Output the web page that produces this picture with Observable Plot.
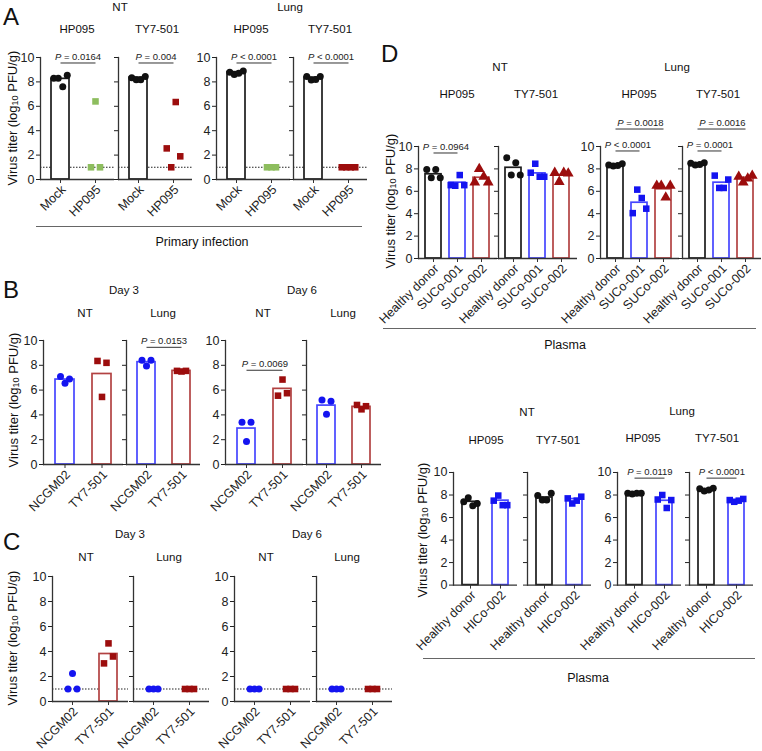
<!DOCTYPE html>
<html><head><meta charset="utf-8">
<script src="https://cdn.jsdelivr.net/npm/d3@7"></script>
<script src="https://cdn.jsdelivr.net/npm/@observablehq/plot@0.6"></script>
<style>
body{margin:0;background:#fff;}
#fig{position:relative;width:762px;height:751px;overflow:hidden;font-family:"Liberation Sans",Arial,sans-serif;color:#111;background:#fff;}
.t{position:absolute;white-space:nowrap;transform:translate(-50%,-50%);font-size:11.5px;line-height:1;}
.letter{position:absolute;font-size:24px;line-height:1;transform:translateY(-50%);}
.ylab{position:absolute;white-space:nowrap;font-size:13px;line-height:1;transform:translate(-50%,-50%) rotate(-90deg);}
.ylab sub{font-size:0.7em;vertical-align:-0.2em;line-height:0;}
.hline{position:absolute;height:0;border-top:1.3px solid #666;}
.plot{position:absolute;}
</style></head><body><div id="fig"></div><script>
// ---------------- DATA ----------------
// Panel A: primary infection (Mock / HP095), then challenge (header virus)
const aGroups = ["Mock", "HP095"];
const aNtHp095Pts = [[8.3, 8.3, 7.6, 8.55], [1, 6.4, 1]];
const aNtHp095Bar = [8.25, null];
const aNtTy7Pts = [[8.33, 8.17, 8.17, 8.44], [2.55, 1.0, 6.35, 1.9]];
const aNtTy7Bar = [8.35, null];
const aLungHp095Pts = [[8.8, 8.6, 8.7, 8.9], [1, 1, 1]];
const aLungHp095Bar = [8.8, null];
const aLungTy7Pts = [[8.45, 8.15, 8.2, 8.45], [1, 1, 1, 1]];
const aLungTy7Bar = [8.35, null];
const aPvals = ["P = 0.0164", "P = 0.004", "P < 0.0001", "P < 0.0001"];

// Panel B: NCGM02 vs TY7-501 infection, Day 3 / Day 6
const bGroups = ["NCGM02", "TY7-501"];
const bD3NtPts = [[7.1, 6.55, 6.9], [8.35, 5.45, 8.2]];
const bD3NtBar = [6.85, 7.3];
const bD3LungPts = [[8.4, 7.95, 8.4], [7.55, 7.5, 7.55]];
const bD3LungBar = [8.25, 7.55];
const bD6NtPts = [[3.4, 1.85, 3.4], [5.55, 6.85, 5.75]];
const bD6NtBar = [2.9, 6.1];
const bD6LungPts = [[5.2, 4.05, 5.1], [4.8, 4.45, 4.7]];
const bD6LungBar = [4.75, 4.65];
const bPvals = ["P = 0.0153", "P = 0.0069"];

// Panel C
const cD3NtPts = [[1, 2.25, 1], [3.05, 4.65, 3.6]];
const cD3NtBar = [null, 3.8];
const cD3LungPts = [[1, 1, 1], [1, 1, 1]];
const cD6NtPts = [[1, 1, 1], [1, 1, 1]];
const cD6LungPts = [[1, 1, 1], [1, 1, 1]];
const cNoBar = [null, null];

// Panel D (top): plasma transfer
const dGroups = ["Healthy donor", "SUCo-001", "SUCo-002"];
const dNtHp095Pts = [[7.95, 7.2, 7.95, 7.2], [6.55, 6.5, 7.45, 6.55], [6.8, 8.0, 7.3, 6.8]];
const dNtHp095Bar = [7.52, 6.77, 7.21];
const dNtTy7Pts = [[9.0, 7.46, 8.55, 7.46], [7.66, 8.46, 7.3, 7.3], [7.65, 6.85, 7.65, 7.6]];
const dNtTy7Bar = [8.1, 7.6, 7.45];
const dLungHp095Pts = [[8.35, 8.25, 8.3, 8.45], [4.05, 6.15, 5.4, 4.45], [6.5, 6.5, 5.45, 6.5]];
const dLungHp095Bar = [8.4, 4.98, 6.18];
const dLungTy7Pts = [[8.5, 8.35, 8.4, 8.55], [7.4, 6.3, 6.3, 7.05], [7.3, 6.8, 7.15, 7.4]];
const dLungTy7Bar = [8.5, 6.77, 7.21];
const dPvals = ["P = 0.0964", "P < 0.0001", "P = 0.0018", "P = 0.0001", "P = 0.0016"];

// Panel D (bottom)
const eGroups = ["Healthy donor", "HICo-002"];
const eNtHp095Pts = [[7.4, 7.75, 7.05, 7.25], [7.5, 7.95, 7.1, 7.1]];
const eNtHp095Bar = [7.4, 7.5];
const eNtTy7Pts = [[7.95, 7.55, 7.55, 8.15], [7.7, 7.25, 7.5, 7.85]];
const eNtTy7Bar = [7.78, 7.64];
const eLungHp095Pts = [[8.15, 8.1, 8.15, 8.15], [7.6, 8.0, 6.85, 7.55]];
const eLungHp095Bar = [8.14, 7.49];
const eLungTy7Pts = [[8.55, 8.35, 8.45, 8.6], [7.55, 7.4, 7.5, 7.65]];
const eLungTy7Bar = [8.5, 7.49];
const ePvals = ["P = 0.0119", "P < 0.0001"];

const yTicks = [0, 2, 4, 6, 8, 10];

// ---------------- STYLE ----------------
const FONT = "'Liberation Sans', Arial, sans-serif";
const COL = {black: "#111111", blue: "#1414f0", red: "#9c0d0d", green: "#8dbd5e"};
const STK = {black: "#1c1c1c", blue: "#4646ff", red: "#b24242"};
const fig = document.getElementById("fig");
const NS = "http://www.w3.org/2000/svg";

function txt(s, x, y, cls = "t", size) {
  const d = document.createElement("div");
  d.className = cls; d.innerHTML = s;
  d.style.left = x + "px"; d.style.top = y + "px";
  if (size) d.style.fontSize = size + "px";
  fig.appendChild(d);
}
function hline(x1, x2, y) {
  const d = document.createElement("div");
  d.className = "hline";
  d.style.left = x1 + "px"; d.style.top = y + "px"; d.style.width = (x2 - x1) + "px";
  fig.appendChild(d);
}

function subplot(o) {
  const {x0, y10, y0, W, groups, pts, bars, colors, strokes, symbols, yLabels, lod, pv = [], pi, po} = o;
  const ml = 34, mr = 8, mt = 48, mb = 100;
  const H = y0 - y10;
  const n = groups.length;
  const step = W / (n - pi + 2 * po);
  const marks = [];
  if (lod) marks.push(Plot.ruleY([1], {stroke: "#222", strokeWidth: 1.1, strokeDasharray: "1.5,1.5"}));
  bars.forEach((b, gi) => {
    if (b != null) marks.push(Plot.barY([{g: groups[gi], v: b}], {x: "g", y: "v", fill: "white", stroke: strokes[gi], strokeWidth: 1.7}));
  });
  marks.push(Plot.ruleY([0], {stroke: "#333", strokeWidth: 1.3}));
  marks.push(Plot.frame({anchor: "left", stroke: "#333", strokeWidth: 1.3}));
  marks.push(Plot.axisY({ticks: yTicks, tickSize: 4, tickPadding: 2, tickFormat: yLabels ? (d => String(d)) : (() => ""), fontSize: 12.5, color: "#222", label: null}));
  marks.push(Plot.axisX({tickSize: 4, tickFormat: () => "", color: "#333", label: null}));
  marks.push(Plot.axisX({tickSize: 0, tickPadding: 6, tickRotate: -45, fontSize: 12.5, color: "#222", label: null, dx: 3, dy: 2}));
  pts.forEach((vals, gi) => vals.forEach((v, i) => {
    marks.push(Plot.dot([{g: groups[gi], v}], {
      x: "g", y: "v", symbol: symbols[gi], r: symbols[gi] === "circle" ? 3.5 : symbols[gi] === "square" ? 3.7 : 4,
      fill: colors[gi], dx: (i - (vals.length - 1) / 2) * 4.5
    }));
  }));
  pv.forEach(p => {
    marks.push(Plot.link([p], {x1: () => groups[p.a], x2: () => groups[p.b], y1: p.level, y2: p.level, stroke: "#333", strokeWidth: 1}));
    marks.push(Plot.text([p], {x: () => groups[p.a], y: p.level, text: () => p.label, dx: (p.b - p.a) * step / 2, dy: -3, lineAnchor: "bottom", fontSize: 9.5, fill: "#222"}));
  });
  const svg = Plot.plot({
    width: ml + W + mr, height: mt + H + mb,
    marginLeft: ml, marginRight: mr, marginTop: mt, marginBottom: mb,
    x: {type: "band", domain: groups, paddingInner: pi, paddingOuter: po, label: null},
    y: {domain: [0, 10], label: null},
    style: {background: "transparent", overflow: "visible", fontFamily: FONT, color: "#222"},
    marks
  });
  svg.querySelectorAll("text").forEach(t => {
    const s = t.textContent;
    if (/^P [=<]/.test(s)) {
      t.textContent = "";
      const a = document.createElementNS(NS, "tspan");
      a.setAttribute("font-style", "italic"); a.textContent = "P";
      const b = document.createElementNS(NS, "tspan"); b.textContent = s.slice(1);
      t.append(a, b);
    }
  });
  svg.classList.add("plot");
  svg.style.left = (x0 - ml) + "px";
  svg.style.top = (y10 - mt) + "px";
  svg.style.position = "absolute";
  fig.appendChild(svg);
}

// ---------------- PANEL A ----------------
const aCommon = {y10: 57, y0: 179, W: 74, groups: aGroups, pi: 0.486, po: 0.3, lod: true, strokes: [STK.black, STK.black], symbols: ["circle", "square"]};
subplot({...aCommon, x0: 40, pts: aNtHp095Pts, bars: aNtHp095Bar, colors: [COL.black, COL.green], yLabels: true, pv: [{a: 0, b: 1, level: 9.55, label: aPvals[0]}]});
subplot({...aCommon, x0: 118, pts: aNtTy7Pts, bars: aNtTy7Bar, colors: [COL.black, COL.red], yLabels: false, pv: [{a: 0, b: 1, level: 9.55, label: aPvals[1]}]});
subplot({...aCommon, x0: 216, pts: aLungHp095Pts, bars: aLungHp095Bar, colors: [COL.black, COL.green], yLabels: true, pv: [{a: 0, b: 1, level: 9.55, label: aPvals[2]}]});
subplot({...aCommon, x0: 293, pts: aLungTy7Pts, bars: aLungTy7Bar, colors: [COL.black, COL.red], yLabels: false, pv: [{a: 0, b: 1, level: 9.55, label: aPvals[3]}]});
txt("A", 3, 17, "letter");
txt("NT", 120, 8); txt("Lung", 290, 8);
txt("HP095", 77, 30); txt("TY7-501", 157, 30); txt("HP095", 251, 30); txt("TY7-501", 330, 30);
txt('Virus titer (log<sub>10</sub> PFU/g)', 12, 118, "ylab");
hline(36, 362, 226);
txt("Primary infection", 202, 242, "t", 12.5);

// ---------------- PANEL B ----------------
const bCommon = {y10: 340, y0: 464, groups: bGroups, pi: 0.49, po: 0.3, lod: false, strokes: [STK.blue, STK.red], colors: [COL.blue, COL.red], symbols: ["circle", "square"]};
subplot({...bCommon, x0: 43, W: 80, pts: bD3NtPts, bars: bD3NtBar, yLabels: true});
subplot({...bCommon, x0: 126, W: 74, pts: bD3LungPts, bars: bD3LungBar, yLabels: false, pv: [{a: 0, b: 1, level: 9.45, label: bPvals[0]}]});
subplot({...bCommon, x0: 225, W: 78, pts: bD6NtPts, bars: bD6NtBar, yLabels: true, pv: [{a: 0, b: 1, level: 7.6, label: bPvals[1]}]});
subplot({...bCommon, x0: 306, W: 75, pts: bD6LungPts, bars: bD6LungBar, yLabels: false});
txt("B", 3, 290, "letter");
txt("Day 3", 124, 291); txt("Day 6", 302, 291);
txt("NT", 85, 314); txt("Lung", 163, 314); txt("NT", 263, 314); txt("Lung", 343, 314);
txt('Virus titer (log<sub>10</sub> PFU/g)', 13, 400, "ylab");

// ---------------- PANEL C ----------------
const cCommon = {y10: 575.7, y0: 700.7, W: 76, groups: bGroups, pi: 0.49, po: 0.3, lod: true, strokes: [STK.blue, STK.red], colors: [COL.blue, COL.red], symbols: ["circle", "square"]};
subplot({...cCommon, x0: 52, pts: cD3NtPts, bars: cD3NtBar, yLabels: true});
subplot({...cCommon, x0: 133, pts: cD3LungPts, bars: cNoBar, yLabels: false});
subplot({...cCommon, x0: 234, pts: cD6NtPts, bars: cNoBar, yLabels: true});
subplot({...cCommon, x0: 316, pts: cD6LungPts, bars: cNoBar, yLabels: false});
txt("C", 3, 542, "letter");
txt("Day 3", 130, 535); txt("Day 6", 307, 535);
txt("NT", 86, 558); txt("Lung", 169, 558); txt("NT", 266, 558); txt("Lung", 347, 558);
txt('Virus titer (log<sub>10</sub> PFU/g)', 12, 638, "ylab");

// ---------------- PANEL D (top) ----------------
const dCommon = {y10: 145.5, y0: 257.5, W: 79, groups: dGroups, pi: 0.33, po: 0.25, lod: false, strokes: [STK.black, STK.blue, STK.red], colors: [COL.black, COL.blue, COL.red], symbols: ["circle", "square", "triangle"]};
subplot({...dCommon, x0: 418, pts: dNtHp095Pts, bars: dNtHp095Bar, yLabels: true, pv: [{a: 0, b: 1, level: 9.42, label: dPvals[0]}]});
subplot({...dCommon, x0: 498, pts: dNtTy7Pts, bars: dNtTy7Bar, yLabels: false});
subplot({...dCommon, x0: 600, pts: dLungHp095Pts, bars: dLungHp095Bar, yLabels: true, pv: [{a: 0, b: 1, level: 9.6, label: dPvals[1]}, {a: 0, b: 2, level: 11.56, label: dPvals[2]}]});
subplot({...dCommon, x0: 682, pts: dLungTy7Pts, bars: dLungTy7Bar, yLabels: false, pv: [{a: 0, b: 1, level: 9.6, label: dPvals[3]}, {a: 0, b: 2, level: 11.56, label: dPvals[4]}]});
txt("D", 381, 54, "letter");
txt("NT", 500, 68); txt("Lung", 677, 68);
txt("HP095", 457, 95); txt("TY7-501", 536, 95); txt("HP095", 639, 95); txt("TY7-501", 718, 95);
txt('Virus titer (log<sub>10</sub> PFU/g)', 390, 201, "ylab");
hline(383, 756, 328);
txt("Plasma", 565, 345, "t", 12.5);

// ---------------- PANEL D (bottom) ----------------
const eCommon = {y10: 471.7, y0: 584.3, W: 64, groups: eGroups, pi: 0.475, po: 0.28, lod: false, strokes: [STK.black, STK.blue], colors: [COL.black, COL.blue], symbols: ["circle", "square"]};
subplot({...eCommon, x0: 453, pts: eNtHp095Pts, bars: eNtHp095Bar, yLabels: true});
subplot({...eCommon, x0: 527, pts: eNtTy7Pts, bars: eNtTy7Bar, yLabels: false});
subplot({...eCommon, x0: 617, pts: eLungHp095Pts, bars: eLungHp095Bar, yLabels: true, pv: [{a: 0, b: 1, level: 9.5, label: ePvals[0]}]});
subplot({...eCommon, x0: 689, pts: eLungTy7Pts, bars: eLungTy7Bar, yLabels: false, pv: [{a: 0, b: 1, level: 9.5, label: ePvals[1]}]});
txt("NT", 527, 413); txt("Lung", 682, 412);
txt("HP095", 486, 441); txt("TY7-501", 558, 441); txt("HP095", 643, 439); txt("TY7-501", 717, 439);
txt('Virus titer (log<sub>10</sub> PFU/g)', 422, 530, "ylab");
hline(423, 755, 658);
txt("Plasma", 588, 678, "t", 12.5);
</script></body></html>
